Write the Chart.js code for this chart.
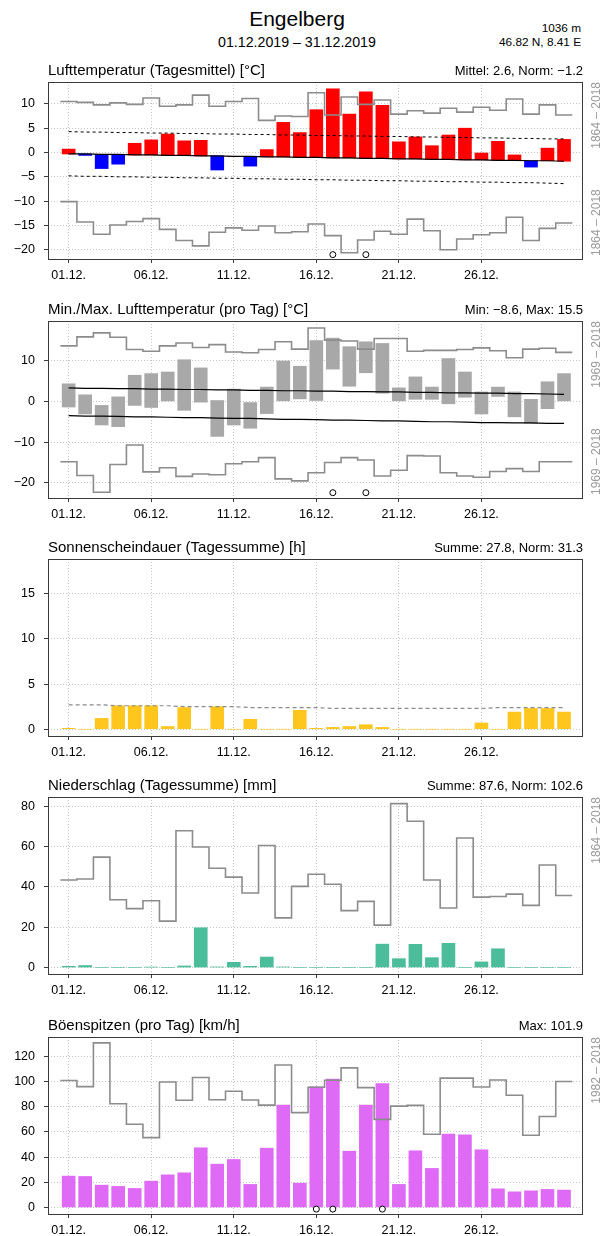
<!DOCTYPE html>
<html>
<head>
<meta charset="utf-8">
<script src="https://cdn.jsdelivr.net/npm/chart.js@4.4.1/dist/chart.umd.min.js"></script>
<style>
  body { margin: 0; width: 605px; height: 1236px; overflow: hidden; background: #fff; position: relative;
         font-family: "Liberation Sans", Arial, sans-serif; }
  canvas { position: absolute; left: 0; }
  .t { position: absolute; white-space: nowrap; color: #000; line-height: 1; }
</style>
</head>
<body>
<div class="t" style="left:0;width:594px;text-align:center;top:8px;font-size:21px">Engelberg</div>
<div class="t" style="left:0;width:594px;text-align:center;top:35px;font-size:14.2px">01.12.2019 – 31.12.2019</div>
<div class="t" style="right:24px;top:23px;font-size:11.8px">1036 m</div>
<div class="t" style="right:24px;top:37px;font-size:11.8px">46.82 N, 8.41 E</div>

<script>
// ---- dados: Engelberg, dezembro 2019 ----
const days = [1, 2, 3, 4, 5, 6, 7, 8, 9, 10, 11, 12, 13, 14, 15, 16, 17, 18, 19, 20, 21, 22, 23, 24, 25, 26, 27, 28, 29, 30, 31];
const tickDays = [1, 6, 11, 16, 21, 26];
const tickLabels = ['01.12.', '06.12.', '11.12.', '16.12.', '21.12.', '26.12.'];

// 1) Lufttemperatur (Tagesmittel)
const tempMean = [0.7, -0.6, -3.3, -2.4, 1.9, 2.6, 3.8, 2.4, 2.5, -3.6, -0.8, -2.8, 0.6, 6.2, 4.1, 8.8, 13.1, 7.9, 12.5, 9.7, 2.2, 3.2, 1.4, 3.6, 5.0, 0.0, 2.3, -0.5, -3.0, 0.9, 2.7];
const tempNorm = [-0.3, -0.3, -0.4, -0.4, -0.5, -0.5, -0.6, -0.6, -0.7, -0.7, -0.8, -0.8, -0.9, -0.9, -1.0, -1.0, -1.1, -1.1, -1.2, -1.2, -1.3, -1.3, -1.4, -1.4, -1.5, -1.5, -1.6, -1.6, -1.7, -1.7, -1.8];
const tempNormHi = [4.3, 4.2, 4.2, 4.1, 4.1, 4.0, 4.0, 3.9, 3.9, 3.8, 3.8, 3.7, 3.7, 3.6, 3.6, 3.5, 3.5, 3.4, 3.4, 3.3, 3.3, 3.2, 3.2, 3.1, 3.1, 3.0, 3.0, 2.9, 2.9, 2.8, 2.8];
const tempNormLo = [-4.8, -4.9, -4.9, -5.0, -5.0, -5.1, -5.1, -5.2, -5.2, -5.3, -5.3, -5.4, -5.4, -5.5, -5.5, -5.6, -5.6, -5.7, -5.7, -5.8, -5.8, -5.9, -5.9, -6.0, -6.0, -6.1, -6.1, -6.2, -6.2, -6.3, -6.4];
const tempRecMax = [10.5, 10.3, 9.8, 10.2, 9.9, 11.2, 9.5, 9.8, 11.8, 9.5, 10.5, 11.1, 6.6, 7.5, 7.4, 12.3, 7.7, 11.4, 9.9, 10.8, 7.9, 8.6, 8.1, 9.1, 8.3, 9.3, 8.7, 11.0, 7.9, 9.8, 7.7];
const tempRecMin = [-10.1, -14.3, -16.8, -14.9, -14.2, -13.6, -15.8, -18.1, -19.2, -16.4, -15.5, -16.0, -15.1, -16.5, -16.3, -14.7, -17.1, -20.6, -18.0, -16.2, -16.8, -13.7, -16.1, -20.0, -17.8, -16.9, -16.5, -13.3, -18.1, -15.6, -14.5];
const tempRecDays = [17, 19];
const tempRecLevel = -21.0;
const tempTicks = [-20, -15, -10, -5, 0, 5, 10];

// 2) Min./Max. Lufttemperatur
const tMax = [4.3, 1.6, -1.0, 1.1, 6.4, 6.8, 7.2, 10.2, 8.2, 0.2, 3.0, -0.3, 3.5, 9.9, 8.6, 14.9, 15.5, 13.4, 14.6, 14.2, 3.3, 6.0, 3.5, 10.5, 7.2, 2.3, 3.5, 2.3, 0.5, 4.8, 6.8];
const tMin = [-1.4, -3.1, -5.8, -6.2, -1.0, -1.5, 0.1, -2.2, -0.2, -8.6, -5.8, -6.6, -3.0, 0.0, 0.6, 0.2, 7.9, 3.7, 7.0, 2.0, 0.0, 0.5, 0.5, -0.6, 1.0, -3.1, 1.2, -3.8, -5.4, -1.8, 0.0];
const tMaxNorm = [3.3, 3.2, 3.2, 3.1, 3.1, 3.0, 3.0, 2.9, 2.9, 2.8, 2.8, 2.7, 2.7, 2.6, 2.6, 2.5, 2.5, 2.4, 2.4, 2.3, 2.3, 2.2, 2.2, 2.1, 2.1, 2.0, 2.0, 1.9, 1.9, 1.8, 1.7];
const tMinNorm = [-3.5, -3.6, -3.6, -3.7, -3.8, -3.8, -3.9, -4.0, -4.0, -4.1, -4.2, -4.2, -4.3, -4.4, -4.4, -4.5, -4.6, -4.6, -4.7, -4.8, -4.8, -4.9, -5.0, -5.0, -5.1, -5.2, -5.2, -5.3, -5.3, -5.4, -5.4];
const tRecMax = [13.6, 15.8, 16.8, 15.7, 12.7, 12.3, 13.6, 14.3, 13.2, 13.9, 12.1, 11.9, 12.7, 14.6, 12.8, 18.0, 15.0, 14.8, 12.8, 15.4, 15.4, 12.3, 12.5, 12.5, 12.7, 13.1, 12.4, 10.7, 12.8, 13.0, 12.0];
const tRecMin = [-14.8, -18.2, -22.3, -15.5, -10.7, -17.3, -16.3, -18.4, -17.8, -18.0, -15.3, -14.8, -13.8, -19.0, -19.5, -17.5, -15.0, -13.8, -14.4, -18.3, -16.9, -13.3, -13.4, -17.5, -18.3, -18.6, -17.2, -16.5, -17.2, -14.8, -14.8];
const tRecDays = [17, 19];
const tRecLevel = -22.4;
const tTicks = [-20, -10, 0, 10];

// 3) Sonnenscheindauer
const sun = [0.1, 0, 1.2, 2.6, 2.6, 2.6, 0.3, 2.4, 0, 2.5, 0, 1.1, 0, 0, 2.1, 0.1, 0.2, 0.3, 0.5, 0.2, 0, 0, 0, 0, 0, 0.7, 0, 1.9, 2.3, 2.3, 1.9];
const sunNorm = [2.7, 2.7, 2.7, 2.6, 2.6, 2.6, 2.6, 2.5, 2.5, 2.5, 2.5, 2.4, 2.4, 2.4, 2.4, 2.4, 2.3, 2.3, 2.3, 2.3, 2.3, 2.3, 2.3, 2.3, 2.3, 2.3, 2.4, 2.4, 2.4, 2.4, 2.4];
const sunTicks = [0, 5, 10, 15];

// 4) Niederschlag
const precip = [0.6, 1.0, 0, 0, 0, 0.2, 0, 0.8, 19.7, 0.3, 2.6, 0.6, 5.2, 0.3, 0, 0, 0, 0, 0, 11.6, 4.4, 11.5, 4.9, 12.0, 0, 2.8, 9.3, 0, 0, 0, 0];
const precipRec = [43.4, 43.9, 54.7, 33.6, 29.2, 33.1, 23.0, 67.8, 59.7, 49.2, 44.8, 36.9, 60.5, 24.6, 40.2, 46.2, 41.3, 28.2, 32.8, 21.0, 81.2, 72.5, 43.4, 29.5, 64.2, 34.9, 35.2, 36.4, 30.8, 50.8, 35.7];
const precipTicks = [0, 20, 40, 60, 80];

// 5) Böenspitzen
const gust = [24.9, 24.6, 17.7, 16.7, 15.1, 20.9, 25.9, 27.5, 47.4, 34.4, 38.1, 18.3, 47.1, 81.3, 19.3, 95.9, 101.9, 44.7, 81.3, 98.4, 18.3, 45.0, 31.0, 58.2, 57.7, 45.8, 14.8, 12.4, 13.2, 14.3, 13.8];
const gustRec = [100.8, 96.0, 130.7, 82.4, 66.1, 55.5, 99.7, 85.1, 103.2, 85.6, 92.3, 85.3, 81.3, 113.1, 75.3, 95.5, 101.1, 110.9, 95.2, 70.0, 80.5, 81.1, 58.1, 102.7, 102.7, 95.7, 101.3, 89.1, 57.4, 72.2, 100.0];
const gustRecDays = [16, 17, 20];
const gustRecLevel = -1.3;
const gustTicks = [0, 20, 40, 60, 80, 100, 120];

// ---- helpers ----
const FONT = '"Liberation Sans", Arial, sans-serif';
Chart.defaults.font.family = FONT;
Chart.defaults.color = '#000';

const pts = vals => vals.map((v, i) => ({ x: days[i], y: v }));
const steps = vals => vals.flatMap((v, i) => [{ x: days[i] - 0.5, y: v }, { x: days[i] + 0.5, y: v }]);
const floatBars = (lo, hi) => days.map((d, i) => ({ x: d, y: [lo[i], hi[i]] }));

const bars = (data, color) => ({ type: 'bar', data, backgroundColor: color, barThickness: 13, borderWidth: 0, order: 3 });
const line = (data, color, width, dash) => ({
  type: 'line', data, borderColor: color, borderWidth: width, borderDash: dash || [],
  pointRadius: 0, fill: false, tension: 0, order: 1
});
const marks = (list, level) => ({
  type: 'line', data: list.map(d => ({ x: d, y: level })), showLine: false,
  pointRadius: 3, pointBorderWidth: 1, pointBorderColor: '#000', pointBackgroundColor: '#fff', order: 0
});
const STEP = '#8c8c8c';
const fmt = v => (v < 0 ? '\u2212' + Math.abs(v) : String(v));

// moldura, títulos e períodos de referência
const decor = {
  id: 'decor',
  afterDraw(chart, args, o) {
    const { ctx, chartArea: a } = chart;
    ctx.save();
    ctx.strokeStyle = '#3a3a3a';
    ctx.lineWidth = 1;
    ctx.strokeRect(Math.round(a.left) + 0.5, Math.round(a.top) + 0.5,
                   Math.round(a.right - a.left) - 1, Math.round(a.bottom - a.top));
    ctx.fillStyle = '#000';
    ctx.font = '15px ' + FONT;
    ctx.textAlign = 'left';
    ctx.fillText(o.title, a.left, a.top - 7);
    ctx.font = '13px ' + FONT;
    ctx.textAlign = 'right';
    ctx.fillText(o.stat, a.right, a.top - 7);
    ctx.fillStyle = '#9a9a9a';
    ctx.font = '12px ' + FONT;
    (o.side || []).forEach(s => {
      ctx.save();
      ctx.translate(a.right + 14, s.top ? a.top : a.bottom - 3);
      ctx.rotate(-Math.PI / 2);
      ctx.textAlign = s.top ? 'right' : 'left';
      ctx.textBaseline = 'middle';
      ctx.fillText(s.text, 0, 0);
      ctx.restore();
    });
    ctx.restore();
  }
};

function panel(top, cfg) {
  const cv = document.createElement('canvas');
  cv.width = 605;
  cv.height = 237;
  cv.style.top = top + 'px';
  document.body.appendChild(cv);
  return new Chart(cv, {
    type: 'bar',
    data: { datasets: cfg.datasets },
    options: {
      responsive: false,
      animation: false,
      devicePixelRatio: 1,
      layout: { padding: { top: 30, right: 22, left: 0, bottom: 0 } },
      plugins: { legend: { display: false }, tooltip: { enabled: false }, decor: cfg.decor },
      scales: {
        x: {
          type: 'linear', min: -0.25, max: 32.15, offset: false,
          afterBuildTicks: s => { s.ticks = tickDays.map(v => ({ value: v })); },
          afterFit: s => { s.height = 30; },
          ticks: { callback: (v, i) => tickLabels[i], font: { size: 12.5 }, padding: 5, maxRotation: 0, autoSkip: false },
          grid: { offset: false, color: '#c4c4c4', tickColor: '#3a3a3a', tickLength: 4, tickBorderDash: [] },
          border: { display: false, dash: [1, 2] }
        },
        y: {
          type: 'linear', min: cfg.min, max: cfg.max,
          afterBuildTicks: s => { s.ticks = cfg.ticks.map(v => ({ value: v })); },
          afterFit: s => { s.width = 48; },
          ticks: { callback: v => fmt(v), font: { size: 12.5 }, padding: 9 },
          grid: { color: '#c4c4c4', tickColor: '#3a3a3a', tickLength: 4, tickBorderDash: [] },
          border: { display: false, dash: [1, 2] }
        }
      }
    },
    plugins: [decor]
  });
}

// 1) Lufttemperatur
panel(52, {
  min: -21.9, max: 14.5, ticks: tempTicks,
  decor: { title: 'Lufttemperatur (Tagesmittel) [°C]', stat: 'Mittel: 2.6, Norm: \u22121.2',
           side: [{ text: '1864 – 2018', top: true }, { text: '1864 – 2018', top: false }] },
  datasets: [
    bars(floatBars(tempNorm, tempMean), tempMean.map((v, i) => (v >= tempNorm[i] ? '#ff0000' : '#0000ff'))),
    line(steps(tempRecMax), STEP, 1.6),
    line(steps(tempRecMin), STEP, 1.6),
    line(pts(tempNorm), '#000', 1.2),
    line(pts(tempNormHi), '#000', 1, [3, 3]),
    line(pts(tempNormLo), '#000', 1, [3, 3]),
    marks(tempRecDays, tempRecLevel)
  ]
});

// 2) Min./Max.
panel(291, {
  min: -23.7, max: 19.7, ticks: tTicks,
  decor: { title: 'Min./Max. Lufttemperatur (pro Tag) [°C]', stat: 'Min: \u22128.6, Max: 15.5',
           side: [{ text: '1969 – 2018', top: true }, { text: '1969 – 2018', top: false }] },
  datasets: [
    bars(floatBars(tMin, tMax), '#a8a8a8'),
    line(steps(tRecMax), STEP, 1.6),
    line(steps(tRecMin), STEP, 1.6),
    line(pts(tMaxNorm), '#000', 1.2),
    line(pts(tMinNorm), '#000', 1.2),
    marks(tRecDays, tRecLevel)
  ]
});

// 3) Sonnenschein
panel(529, {
  min: -0.75, max: 18.85, ticks: sunTicks,
  decor: { title: 'Sonnenscheindauer (Tagessumme) [h]', stat: 'Summe: 27.8, Norm: 31.3' },
  datasets: [
    bars(pts(sun), '#ffc61e'),
    line(pts(sunNorm), '#8a8a8a', 1.2, [4, 3])
  ]
});

// 4) Niederschlag
panel(767, {
  min: -3.2, max: 84.5, ticks: precipTicks,
  decor: { title: 'Niederschlag (Tagessumme) [mm]', stat: 'Summe: 87.6, Norm: 102.6',
           side: [{ text: '1864 – 2018', top: true }] },
  datasets: [
    bars(pts(precip), '#4bbd9a'),
    line(steps(precipRec), STEP, 1.6)
  ]
});

// 5) Böenspitzen
panel(1007, {
  min: -5.2, max: 135.4, ticks: gustTicks,
  decor: { title: 'Böenspitzen (pro Tag) [km/h]', stat: 'Max: 101.9',
           side: [{ text: '1982 – 2018', top: true }] },
  datasets: [
    bars(pts(gust), '#de6af5'),
    line(steps(gustRec), STEP, 1.6),
    marks(gustRecDays, gustRecLevel)
  ]
});
</script>
</body>
</html>
